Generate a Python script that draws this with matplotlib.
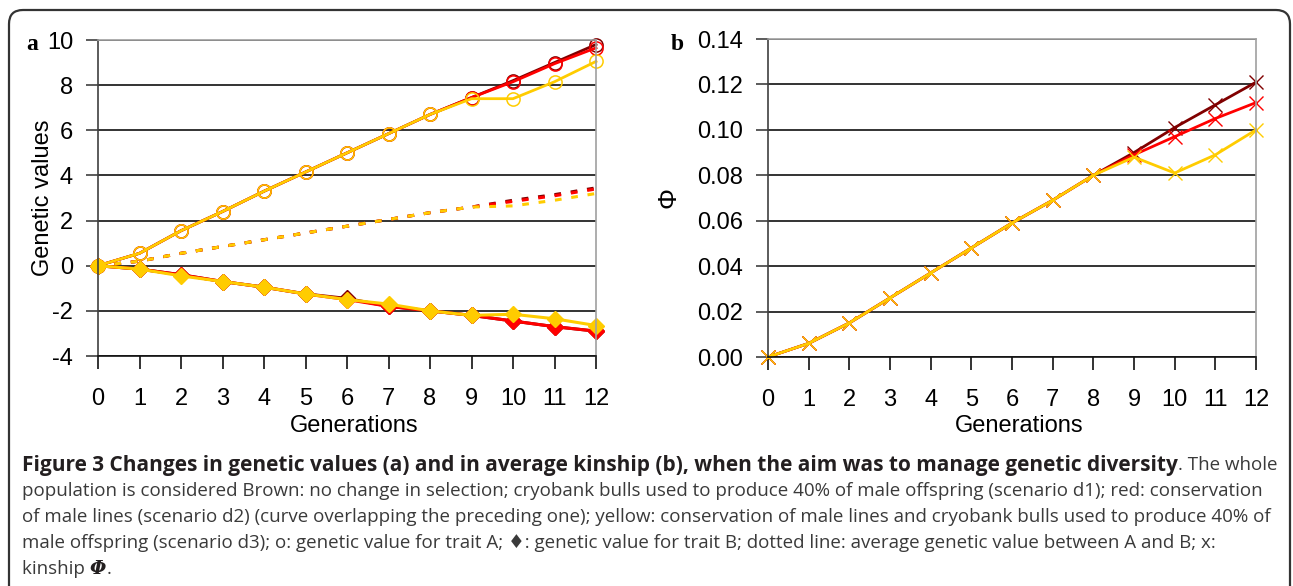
import matplotlib
matplotlib.use("Agg")
import matplotlib.pyplot as plt
from matplotlib.patches import FancyBboxPatch
from matplotlib.transforms import IdentityTransform

# Données
generations = list(range(13))

# (a) valeur génétique caractère A (cercles)
traitA_brown = [0, 0.55, 1.55, 2.4, 3.3, 4.15, 5.0, 5.85, 6.7, 7.45, 8.2, 9.0, 9.8]
traitA_red = [0, 0.55, 1.55, 2.4, 3.3, 4.15, 5.0, 5.85, 6.7, 7.45, 8.15, 8.95, 9.65]
traitA_yellow = [0, 0.55, 1.55, 2.4, 3.3, 4.15, 5.0, 5.85, 6.7, 7.4, 7.4, 8.15, 9.05]

# (a) valeur génétique caractère B (losanges)
traitB_brown = [0, -0.15, -0.4, -0.7, -0.95, -1.25, -1.45, -1.8, -2.0, -2.2, -2.45, -2.7, -2.9]
traitB_red = [0, -0.15, -0.4, -0.7, -0.95, -1.25, -1.5, -1.8, -2.0, -2.2, -2.45, -2.7, -2.9]
traitB_yellow = [0, -0.15, -0.45, -0.7, -0.95, -1.25, -1.5, -1.7, -2.0, -2.2, -2.15, -2.35, -2.65]

# (a) moyenne A/B (pointillés)
mean_brown = [0, 0.2, 0.55, 0.85, 1.15, 1.45, 1.75, 2.05, 2.35, 2.6, 2.9, 3.15, 3.45]
mean_red = [0, 0.2, 0.55, 0.85, 1.15, 1.45, 1.75, 2.05, 2.35, 2.6, 2.85, 3.1, 3.4]
mean_yellow = [0, 0.2, 0.55, 0.85, 1.15, 1.45, 1.75, 2.05, 2.35, 2.6, 2.65, 2.9, 3.2]

# (b) parenté moyenne (croix)
phi_brown = [0, 0.006, 0.015, 0.026, 0.037, 0.048, 0.059, 0.069, 0.080, 0.090, 0.101, 0.111, 0.121]
phi_red = [0, 0.006, 0.015, 0.026, 0.037, 0.048, 0.059, 0.069, 0.080, 0.089, 0.097, 0.105, 0.112]
phi_yellow = [0, 0.006, 0.015, 0.026, 0.037, 0.048, 0.059, 0.069, 0.080, 0.088, 0.081, 0.089, 0.100]

BROWN = "#800000"
RED = "#ff0000"
YELLOW = "#ffcc00"

plt.rcParams['font.family'] = ['Liberation Sans', 'DejaVu Sans']

W, H = 1293, 586
fig = plt.figure(figsize=(W / 100, H / 100), dpi=100)

# cadre arrondi autour de la figure (ouvert en bas)
frame = FancyBboxPatch((9, -40), 1281, H - 10 + 40, boxstyle="round,pad=0,rounding_size=14",
                       transform=IdentityTransform(), fill=False, edgecolor="#333333", lw=1.6)
fig.patches.append(frame)


def style_axes(ax, ylim, yticks, yfmt):
    ax.set_xlim(0, 12)
    ax.set_ylim(*ylim)
    ax.set_xticks(generations)
    ax.set_yticks(yticks)
    ax.set_yticklabels([yfmt.format(v) for v in yticks])
    ax.yaxis.grid(True, color="#111111", lw=1.2)
    ax.set_axisbelow(True)
    ax.spines['top'].set_color("#a0a0a0")
    ax.spines['right'].set_color("#a0a0a0")
    ax.spines['left'].set_color("#404040")
    ax.spines['bottom'].set_color("#111111")
    for s in ax.spines.values():
        s.set_linewidth(1.2)
    ax.tick_params(axis='y', length=9, width=1.2, color="#404040", pad=9, labelsize=17)
    ax.tick_params(axis='x', length=9, width=1.2, color="#111111", pad=14, labelsize=17)
    ax.set_xlabel("Generations", fontsize=17, va="center")
    # centre du titre d'axe x à ~426 px du haut
    bbox = ax.get_position()
    ax.xaxis.set_label_coords(bbox.x0 + 0.514 * bbox.width, 1 - 426 / H, transform=fig.transFigure)


# Panneau a
ax1 = fig.add_axes([98 / W, 1 - 356 / H, (596 - 98) / W, 316 / H])
style_axes(ax1, (-4, 10), list(range(-4, 11, 2)), "{:d}")
ax1.set_ylabel("Genetic values", fontsize=17, labelpad=-5)

for col, a, b, m in [(BROWN, traitA_brown, traitB_brown, mean_brown),
                     (RED, traitA_red, traitB_red, mean_red),
                     (YELLOW, traitA_yellow, traitB_yellow, mean_yellow)]:
    ax1.plot(generations, m, color=col, lw=2.2, ls=(0, (2.2, 3.2)), clip_on=False)
    ax1.plot(generations, a, color=col, lw=2.0, marker='o', ms=9.5, mfc='none', mec=col, mew=1.1, clip_on=False)
    ax1.plot(generations, b, color=col, lw=2.2, marker='D', ms=8.5, mfc=col, mec=col, clip_on=False)

# Panneau b
ax2 = fig.add_axes([768 / W, 1 - 357 / H, (1256 - 768) / W, 318 / H])
yt = [0.00, 0.02, 0.04, 0.06, 0.08, 0.10, 0.12, 0.14]
style_axes(ax2, (0, 0.14), yt, "{:.2f}")
ax2.set_ylabel("Φ", fontsize=19, labelpad=12)

for col, p in [(BROWN, phi_brown), (RED, phi_red), (YELLOW, phi_yellow)]:
    ax2.plot(generations, p, color=col, lw=2.0, marker='x', ms=10, mew=1.0, clip_on=False)

# lettres des panneaux
fig.text(26 / W, 1 - 50 / H, "a", family="Liberation Serif", weight="bold", fontsize=17)
fig.text(671 / W, 1 - 50 / H, "b", family="Liberation Serif", weight="bold", fontsize=17)

# Légende / texte de la figure
cap_font = ['Open Sans', 'DejaVu Sans']
cap_size = 13.5
cap_col = "#3a3a3a"
x0 = 22 / W
lines_y = [465, 491, 517, 543, 569]

bold_txt = "Figure 3 Changes in genetic values (a) and in average kinship (b), when the aim was to manage genetic diversity"
t_bold = fig.text(x0, 1 - lines_y[0] / H, bold_txt,
                  family=cap_font, weight="bold", fontsize=cap_size, color="#231f20", va="center")
t_rest = fig.text(x0, 1 - lines_y[0] / H, ". The whole",
                  family=cap_font, fontsize=cap_size, color=cap_col, va="center")
# ajuste la partie en gras pour que la ligne finisse vers x = 1280 px
fig.canvas.draw()
w_rest = t_rest.get_window_extent().width
w_bold = t_bold.get_window_extent().width
t_bold.set_fontsize(cap_size * (1280 - 22 - w_rest) / w_bold)
fig.canvas.draw()
bb = t_bold.get_window_extent()
t_rest.set_x(bb.x1 / W)

caption = [
    "population is considered Brown: no change in selection; cryobank bulls used to produce 40% of male offspring (scenario d1); red: conservation",
    "of male lines (scenario d2) (curve overlapping the preceding one); yellow: conservation of male lines and cryobank bulls used to produce 40% of",
    "male offspring (scenario d3); o: genetic value for trait A; \u2666: genetic value for trait B; dotted line: average genetic value between A and B; x:",
]
for txt, y in zip(caption, lines_y[1:4]):
    fig.text(x0, 1 - y / H, txt, family=cap_font, fontsize=cap_size, color=cap_col, va="center")

t_k = fig.text(x0, 1 - lines_y[4] / H, "kinship ", family=cap_font, fontsize=cap_size, color=cap_col, va="center")
fig.canvas.draw()
bb = t_k.get_window_extent()
t_phi = fig.text(bb.x1 / W, 1 - lines_y[4] / H, "Φ", family=['DejaVu Serif'], style="italic",
                 weight="bold", fontsize=cap_size, color="#231f20", va="center")
fig.canvas.draw()
bb = t_phi.get_window_extent()
fig.text(bb.x1 / W, 1 - lines_y[4] / H, ".", family=cap_font, fontsize=cap_size, color=cap_col, va="center")

fig.savefig("out.png", dpi=100)
